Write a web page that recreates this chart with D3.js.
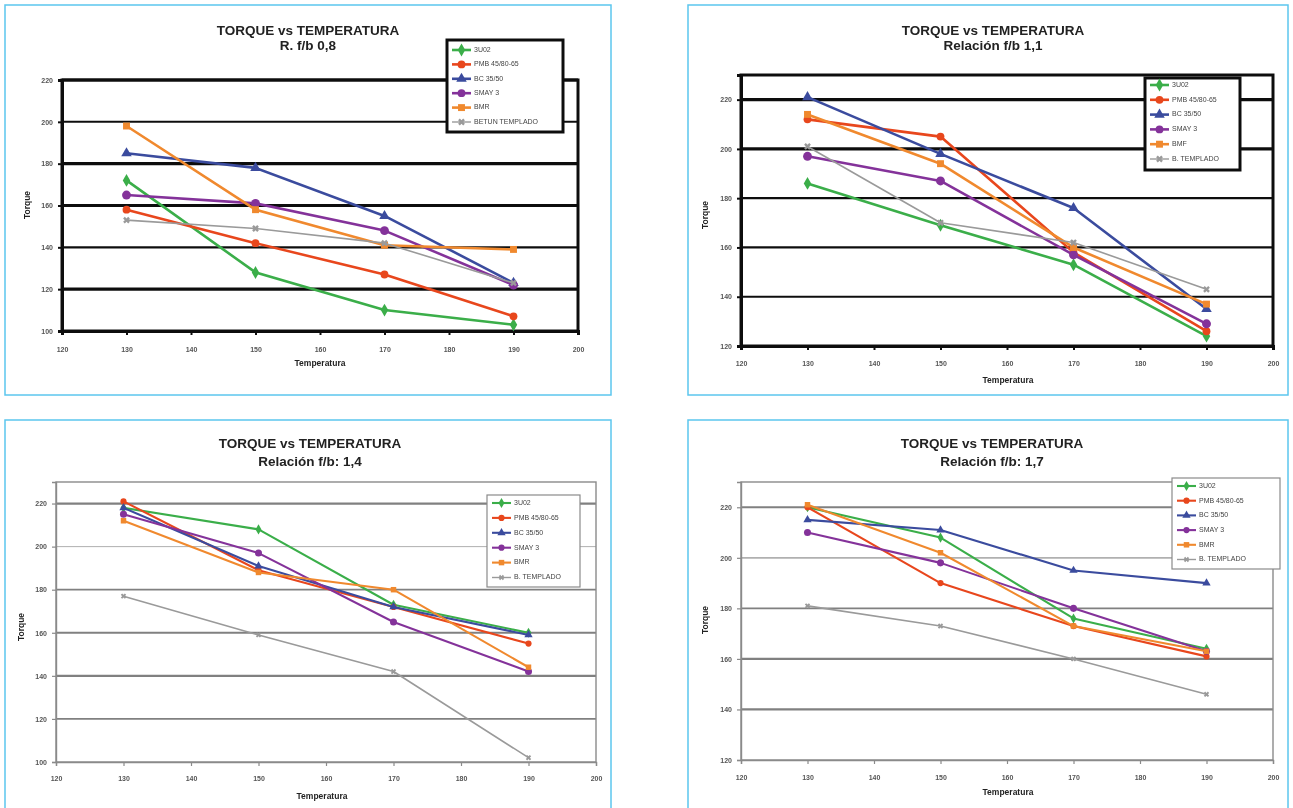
<!DOCTYPE html>
<html><head><meta charset="utf-8">
<script src="https://cdn.jsdelivr.net/npm/d3@7"></script>
<style>
body{margin:0;background:#fff;}
svg{display:block;font-family:Arial,'Liberation Sans',Helvetica,sans-serif;}
</style>
</head><body>
<svg id="c" width="1293" height="808"></svg>
<script>
// ---------- DATA ----------
const temps = [130, 150, 170, 190];
const xTicks = [120, 130, 140, 150, 160, 170, 180, 190, 200];
const yTicks100 = [100, 120, 140, 160, 180, 200, 220];
const yTicks120 = [120, 140, 160, 180, 200, 220];
const chartTitle = "TORQUE vs TEMPERATURA";
const subtitles = ["R. f/b 0,8", "Relación f/b 1,1", "Relación f/b: 1,4", "Relación f/b: 1,7"];
const xAxisTitle = "Temperatura";
const yAxisTitle = "Torque";

const names08 = ["3U02", "PMB 45/80-65", "BC 35/50", "SMAY 3", "BMR", "BETUN TEMPLADO"];
const names11 = ["3U02", "PMB 45/80-65", "BC 35/50", "SMAY 3", "BMF", "B. TEMPLADO"];
const names14 = ["3U02", "PMB 45/80-65", "BC 35/50", "SMAY 3", "BMR", "B. TEMPLADO"];
const names17 = ["3U02", "PMB 45/80-65", "BC 35/50", "SMAY 3", "BMR", "B. TEMPLADO"];

// rows: 3U02, PMB, BC, SMAY, BMR, TEMPLADO ; columns follow temps
const values08 = [
  [172, 128, 110, 103],
  [158, 142, 127, 107],
  [185, 178, 155, 123],
  [165, 161, 148, 122],
  [198, 158, 141, 139],
  [153, 149, 142, 123]
];
const values11 = [
  [186, 169, 153, 124],
  [212, 205, 158, 126],
  [221, 198, 176, 135],
  [197, 187, 157, 129],
  [214, 194, 160, 137],
  [201, 170, 162, 143]
];
const values14 = [
  [218, 208, 173, 160],
  [221, 189, 172, 155],
  [218, 191, 172, 159],
  [215, 197, 165, 142],
  [212, 188, 180, 144],
  [177, 159, 142, 102]
];
const values17 = [
  [220, 208, 176, 164],
  [220, 190, 173, 161],
  [215, 211, 195, 190],
  [210, 198, 180, 163],
  [221, 202, 173, 163],
  [181, 173, 160, 146]
];

// ---------- STYLE / LAYOUT ----------
const FONT = "Arial, 'Liberation Sans', Helvetica, sans-serif";
const colors = ["#3aae4a", "#e8461e", "#3a4c9e", "#84339a", "#f0892e", "#9a9a9a"];
const symbols = [d3.symbolDiamond, d3.symbolCircle, d3.symbolTriangle, d3.symbolCircle, d3.symbolSquare, d3.symbolCross];

const panels = [
  { names: names08, values: values08, sub: subtitles[0], yDomain: [100, 220], yTicks: yTicks100,
    frame: [5, 5, 606, 390], plot: { l: 62, r: 578, t: 80, b: 331 },
    cx: 308, titleY: 35, subY: 50,
    xLabY: 350, xTitle: [320, 366], yTitle: [28, 205],
    legend: { x: 447, y: 40, w: 116, h: 92, r0: 50, dy: 14.4 },
    heavy: true, gridW: { 220: 3, 200: 2, 180: 3.2, 160: 3.2, 140: 2.2, 120: 3.2 },
    lw: 2.6, ms: 48 },
  { names: names11, values: values11, sub: subtitles[1], yDomain: [120, 230], yTicks: yTicks120,
    frame: [688, 5, 600, 390], plot: { l: 741, r: 1273, t: 75, b: 346 },
    cx: 993, titleY: 35, subY: 50,
    xLabY: 364, xTitle: [1008, 383], yTitle: [706, 215],
    legend: { x: 1145, y: 78, w: 95, h: 92, r0: 85, dy: 14.8 },
    heavy: true, gridW: { 220: 3.2, 200: 3.2, 180: 2.2, 160: 2.2, 140: 2.2 },
    lw: 2.6, ms: 48 },
  { names: names14, values: values14, sub: subtitles[2], yDomain: [100, 230], yTicks: yTicks100,
    frame: [5, 420, 606, 400], plot: { l: 56, r: 596, t: 482, b: 762 },
    cx: 310, titleY: 448, subY: 466,
    xLabY: 779, xTitle: [322, 799], yTitle: [22, 627],
    legend: { x: 487, y: 495, w: 93, h: 92, r0: 503, dy: 14.9 },
    heavy: false, gridW: { 220: 2.2, 200: 1, 180: 1.8, 160: 2.2, 140: 2.2, 120: 1.8 },
    lw: 2.1, ms: 30 },
  { names: names17, values: values17, sub: subtitles[3], yDomain: [120, 230], yTicks: yTicks120,
    frame: [688, 420, 600, 400], plot: { l: 741, r: 1273, t: 482, b: 760 },
    cx: 992, titleY: 448, subY: 466,
    xLabY: 778, xTitle: [1008, 795], yTitle: [706, 620],
    legend: { x: 1172, y: 478, w: 108, h: 91, r0: 486, dy: 14.7 },
    heavy: false, gridW: { 220: 2.2, 200: 1.8, 180: 1.8, 160: 2.2, 140: 2.2 },
    lw: 2.1, ms: 30 }
];

const svg = d3.select("#c").attr("font-family", FONT);
const defs = svg.append("defs");
defs.append("filter").attr("id", "soft").attr("x", "-5%").attr("y", "-5%").attr("width", "110%").attr("height", "110%")
  .append("feGaussianBlur").attr("stdDeviation", 0.5);

const root = svg.append("g").attr("filter", "url(#soft)");

panels.forEach(p => {
  const g = root.append("g").attr("font-family", FONT);
  g.append("rect").attr("x", p.frame[0]).attr("y", p.frame[1]).attr("width", p.frame[2]).attr("height", p.frame[3])
    .attr("fill", "#fff").attr("stroke", "#5cc6ee").attr("stroke-width", 1.5);

  const x = d3.scaleLinear().domain([120, 200]).range([p.plot.l, p.plot.r]);
  const y = d3.scaleLinear().domain(p.yDomain).range([p.plot.b, p.plot.t]);

  const axisCol = p.heavy ? "#111" : "#8a8a8a";
  const gridCol = p.heavy ? "#111" : "#808080";

  g.append("rect").attr("x", p.plot.l).attr("y", p.plot.t).attr("width", p.plot.r - p.plot.l).attr("height", p.plot.b - p.plot.t)
    .attr("fill", "#fff");

  p.yTicks.filter(t => t > p.yDomain[0]).forEach(t => {
    g.append("line").attr("x1", p.plot.l).attr("x2", p.plot.r).attr("y1", y(t)).attr("y2", y(t))
      .attr("stroke", (!p.heavy && t === 200) ? "#b0b0b0" : gridCol)
      .attr("stroke-width", p.gridW[t] || 2);
  });

  g.append("rect").attr("x", p.plot.l).attr("y", p.plot.t).attr("width", p.plot.r - p.plot.l).attr("height", p.plot.b - p.plot.t)
    .attr("fill", "none").attr("stroke", axisCol).attr("stroke-width", p.heavy ? 3 : 1.4);

  const xAxis = d3.axisBottom(x).tickValues(xTicks).tickSize(4).tickPadding(6).tickFormat(d3.format("d"));
  const gx = g.append("g").attr("transform", `translate(0,${p.plot.b})`).call(xAxis);
  const yAxis = d3.axisLeft(y).tickValues(p.yTicks).tickSize(4).tickPadding(5).tickFormat(d3.format("d"));
  const gy = g.append("g").attr("transform", `translate(${p.plot.l},0)`).call(yAxis);
  [gx, gy].forEach(a => {
    a.attr("font-family", FONT);
    a.select(".domain").attr("stroke", axisCol).attr("stroke-width", p.heavy ? 3 : 1.4);
    a.selectAll(".tick line").attr("stroke", axisCol).attr("stroke-width", p.heavy ? 2 : 1.2);
    a.selectAll(".tick text").attr("fill", "#555").style("font-size", "7px").style("font-weight", "bold");
  });
  gx.selectAll(".tick text").attr("y", null).attr("dy", null)
    .attr("transform", `translate(0,${p.xLabY - p.plot.b})`).attr("dominant-baseline", "middle");

  const line = d3.line().x((d, i) => x(temps[i])).y(d => y(d));
  p.values.forEach((vals, si) => {
    g.append("path").attr("d", line(vals)).attr("fill", "none")
      .attr("stroke", colors[si]).attr("stroke-width", si === 5 ? 1.6 : p.lw).attr("stroke-linejoin", "round");
    g.selectAll(null).data(vals).enter().append("path")
      .attr("d", d3.symbol().type(symbols[si]).size(si === 5 ? p.ms * 0.6 : (si === 3 ? p.ms * 1.3 : p.ms)))
      .attr("transform", (d, i) => `translate(${x(temps[i])},${y(d)})` + (si === 5 ? " rotate(45)" : ""))
      .attr("fill", colors[si]);
  });

  g.append("text").attr("x", p.cx).attr("y", p.titleY).attr("text-anchor", "middle")
    .style("font-size", "13.5px").style("font-weight", "bold").attr("fill", "#222").text(chartTitle);
  g.append("text").attr("x", p.cx).attr("y", p.subY).attr("text-anchor", "middle")
    .style("font-size", "13.5px").style("font-weight", "bold").attr("fill", "#222").text(p.sub);

  g.append("text").attr("x", p.xTitle[0]).attr("y", p.xTitle[1]).attr("text-anchor", "middle")
    .style("font-size", "8.5px").style("font-weight", "bold").attr("fill", "#222").text(xAxisTitle);
  g.append("text").attr("transform", `translate(${p.yTitle[0]},${p.yTitle[1]}) rotate(-90)`)
    .attr("text-anchor", "middle").attr("dominant-baseline", "middle")
    .style("font-size", "8.5px").style("font-weight", "bold").attr("fill", "#222").text(yAxisTitle);

  const L = p.legend;
  g.append("rect").attr("x", L.x).attr("y", L.y).attr("width", L.w).attr("height", L.h)
    .attr("fill", "#fff").attr("stroke", p.heavy ? "#111" : "#8a8a8a").attr("stroke-width", p.heavy ? 3 : 1.2);
  p.names.forEach((nm, si) => {
    const ry = L.r0 + si * L.dy;
    g.append("line").attr("x1", L.x + 5).attr("x2", L.x + 24).attr("y1", ry).attr("y2", ry)
      .attr("stroke", colors[si]).attr("stroke-width", si === 5 ? 1.4 : p.lw);
    g.append("path").attr("d", d3.symbol().type(symbols[si]).size(si === 5 ? p.ms * 0.6 : p.ms))
      .attr("transform", `translate(${L.x + 14.5},${ry})` + (si === 5 ? " rotate(45)" : "")).attr("fill", colors[si]);
    g.append("text").attr("x", L.x + 27).attr("y", ry).attr("dominant-baseline", "middle")
      .style("font-size", "7px").attr("fill", "#444").text(nm);
  });
});
</script>
</body></html>
